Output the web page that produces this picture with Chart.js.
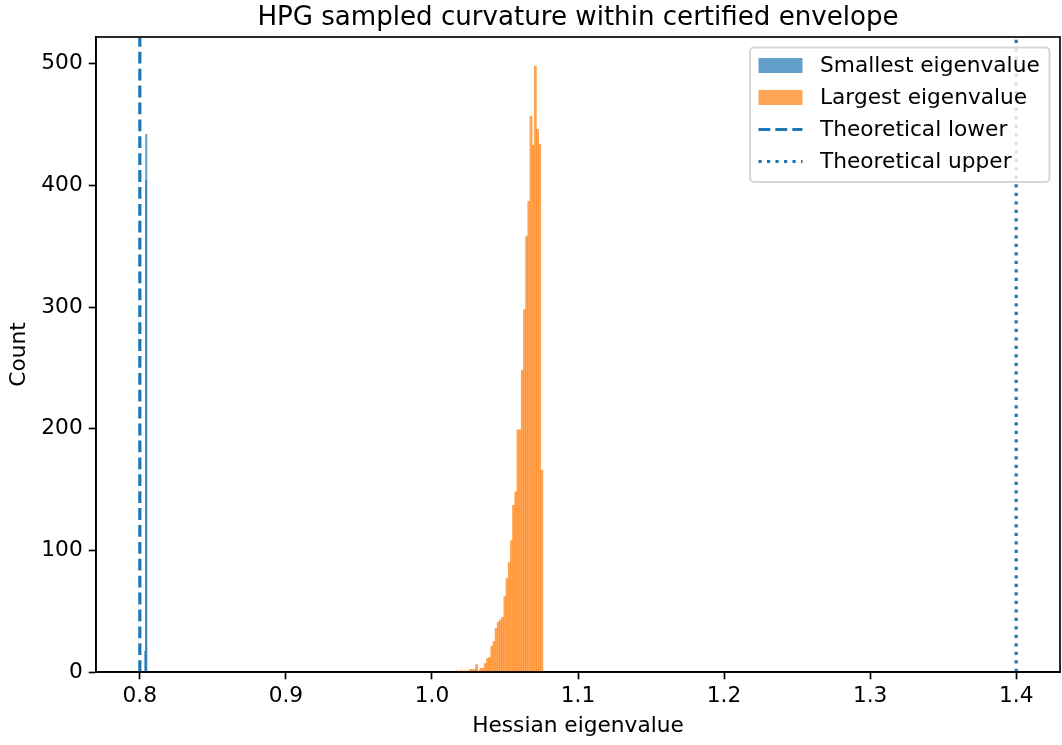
<!DOCTYPE html>
<html><head><meta charset="utf-8">
<script src="https://cdn.jsdelivr.net/npm/chart.js@4.4.1/dist/chart.umd.min.js"></script>
<style>html,body{margin:0;padding:0;background:#fff;} canvas{display:block;}</style>
</head><body>
<canvas id="c" width="1062" height="745"></canvas>
<script>
// ---- data ----
const titleText = 'HPG sampled curvature within certified envelope';
const xAxisLabel = 'Hessian eigenvalue';
const yAxisLabel = 'Count';
const seriesLabels = ['Smallest eigenvalue', 'Largest eigenvalue', 'Theoretical lower', 'Theoretical upper'];
const xTickValues = [0.8, 0.9, 1.0, 1.1, 1.2, 1.3, 1.4];
const yTickValues = [0, 100, 200, 300, 400, 500];
const xRange = [0.77, 1.43];
const yRange = [0, 522];

// histogram of the largest eigenvalue (bin centres and counts)
const largestBinCenters = [
  1.01715, 1.01864, 1.02013, 1.02162, 1.02311, 1.02460, 1.02609, 1.02758, 1.02907, 1.03056,
  1.03205, 1.03354, 1.03503, 1.03652, 1.03801, 1.03950, 1.04099, 1.04248, 1.04397, 1.04546,
  1.04695, 1.04844, 1.04993, 1.05142, 1.05291, 1.05440, 1.05589, 1.05738, 1.05887, 1.06036,
  1.06185, 1.06334, 1.06483, 1.06632, 1.06781, 1.06930, 1.07079, 1.07228, 1.07377, 1.07526
];
const largestCounts = [
  1, 0, 1, 0, 1, 0, 2, 2, 2, 6,
  1, 3, 3, 7, 11, 12, 21, 25, 36, 41,
  43, 45, 62, 77, 90, 108, 137, 148, 199, 199,
  248, 298, 358, 387, 457, 433, 498, 446, 434, 166
];
// histogram of the smallest eigenvalue (very narrow bins)
const smallestBinCenters = [0.80368, 0.80432, 0.80440];
const smallestCounts = [17, 404, 442];

const theoreticalLower = 0.8;
const theoreticalUpper = 1.4;

// ---- styles ----
const BLUE = 'rgba(31,119,180,0.7)';
const ORANGE = 'rgba(255,127,14,0.7)';
const LINE_BLUE = '#1f77b4';
const FONT = "'DejaVu Sans', 'Liberation Sans', sans-serif";
const FS = 21.7;

const toXY = (xs, ys) => xs.map((x, i) => ({ x: x, y: ys[i] }));

const framePlugin = {
  id: 'frame',
  afterDatasetsDraw(chart) {
    const { ctx, chartArea: a } = chart;
    ctx.save();
    ctx.strokeStyle = '#000';
    ctx.lineWidth = 1.67;
    ctx.strokeRect(a.left, a.top, a.right - a.left, a.bottom - a.top);
    ctx.restore();
  }
};

const titlePlugin = {
  id: 'mplTitle',
  afterDraw(chart) {
    const { ctx, chartArea: a } = chart;
    ctx.save();
    ctx.fillStyle = '#000';
    ctx.font = '26.1px ' + FONT;
    ctx.textAlign = 'center';
    ctx.textBaseline = 'alphabetic';
    ctx.fillText(titleText, (a.left + a.right) / 2, a.top - 12.5);
    ctx.restore();
  }
};

const legendPlugin = {
  id: 'mplLegend',
  afterDraw(chart) {
    const { ctx } = chart;
    const x0 = 750, y0 = 47.5, w = 299.5, h = 134.5, r = 4;
    ctx.save();
    ctx.beginPath();
    ctx.moveTo(x0 + r, y0);
    ctx.arcTo(x0 + w, y0, x0 + w, y0 + h, r);
    ctx.arcTo(x0 + w, y0 + h, x0, y0 + h, r);
    ctx.arcTo(x0, y0 + h, x0, y0, r);
    ctx.arcTo(x0, y0, x0 + w, y0, r);
    ctx.closePath();
    ctx.fillStyle = 'rgba(255,255,255,0.8)';
    ctx.fill();
    ctx.strokeStyle = 'rgba(204,204,204,0.8)';
    ctx.lineWidth = 2;
    ctx.stroke();

    const ds = chart.data.datasets;
    ctx.font = FS + 'px ' + FONT;
    ctx.textBaseline = 'middle';
    ctx.textAlign = 'left';
    ds.forEach((d, i) => {
      const cy = 65.5 + i * 32;
      const hx = 758.5, hw = 44;
      if (d.type === 'line') {
        ctx.beginPath();
        ctx.strokeStyle = d.borderColor;
        ctx.lineWidth = d.borderWidth;
        ctx.lineCap = 'butt';
        ctx.setLineDash(d.borderDash || []);
        ctx.moveTo(hx, cy);
        ctx.lineTo(hx + hw, cy);
        ctx.stroke();
        ctx.setLineDash([]);
      } else {
        ctx.fillStyle = d.backgroundColor;
        ctx.fillRect(hx, cy - 7.5, hw, 15);
      }
      ctx.fillStyle = '#000';
      ctx.fillText(d.label, 820, cy + 1);
    });
    ctx.restore();
  }
};

const chart = new Chart(document.getElementById('c'), {
  type: 'bar',
  data: {
    datasets: [
      {
        type: 'bar',
        label: seriesLabels[0],
        data: toXY(smallestBinCenters, smallestCounts),
        backgroundColor: BLUE,
        borderWidth: 0,
        xAxisID: 'x2',
        barThickness: 1.3,
        grouped: false,
        order: 3
      },
      {
        type: 'bar',
        label: seriesLabels[1],
        data: toXY(largestBinCenters, largestCounts),
        backgroundColor: ORANGE,
        borderWidth: 0,
        xAxisID: 'x',
        barPercentage: 1,
        categoryPercentage: 1,
        grouped: false,
        order: 2
      },
      {
        type: 'line',
        label: seriesLabels[2],
        data: [{ x: theoreticalLower, y: yRange[0] }, { x: theoreticalLower, y: yRange[1] }],
        borderColor: LINE_BLUE,
        borderWidth: 3.2,
        borderDash: [11.8, 5.1],
        borderCapStyle: 'butt',
        pointRadius: 0,
        xAxisID: 'x',
        order: 1
      },
      {
        type: 'line',
        label: seriesLabels[3],
        data: [{ x: theoreticalUpper, y: yRange[0] }, { x: theoreticalUpper, y: yRange[1] }],
        borderColor: LINE_BLUE,
        borderWidth: 3.2,
        borderDash: [3.2, 5.3],
        borderCapStyle: 'butt',
        pointRadius: 0,
        xAxisID: 'x',
        order: 0
      }
    ]
  },
  options: {
    responsive: false,
    animation: false,
    events: [],
    layout: { padding: { top: 37, right: 2, left: 0, bottom: 0 } },
    plugins: { legend: { display: false }, title: { display: false }, tooltip: { enabled: false } },
    scales: {
      x: {
        type: 'linear',
        position: 'bottom',
        offset: false,
        min: xRange[0],
        max: xRange[1],
        afterBuildTicks: (s) => { s.ticks = xTickValues.map(v => ({ value: v })); },
        afterFit: (s) => { s.height = 73; },
        ticks: {
          color: '#000',
          font: { family: FONT, size: FS },
          padding: 4,
          maxRotation: 0,
          autoSkip: false,
          callback: (v) => Number(v).toFixed(1)
        },
        grid: { display: true, offset: false, drawOnChartArea: false, drawTicks: true, tickLength: 7.3, tickWidth: 1.67, tickColor: '#000' },
        border: { display: true, color: '#000', width: 1.67 },
        title: { display: true, text: xAxisLabel, color: '#000', font: { family: FONT, size: FS }, padding: { top: 0, bottom: 6 } }
      },
      x2: {
        type: 'linear',
        display: false,
        offset: false,
        grid: { offset: false },
        min: xRange[0],
        max: xRange[1]
      },
      y: {
        type: 'linear',
        min: yRange[0],
        max: yRange[1],
        afterBuildTicks: (s) => { s.ticks = yTickValues.map(v => ({ value: v })); },
        afterFit: (s) => { s.width = 96; },
        ticks: {
          color: '#000',
          font: { family: FONT, size: FS },
          padding: 6,
          autoSkip: false,
          callback: (v) => String(v)
        },
        grid: { display: true, drawOnChartArea: false, drawTicks: true, tickLength: 7.3, tickWidth: 1.67, tickColor: '#000' },
        border: { display: true, color: '#000', width: 1.67 },
        title: { display: true, text: yAxisLabel, color: '#000', font: { family: FONT, size: FS }, padding: { top: 6, bottom: 0 } }
      }
    }
  },
  plugins: [framePlugin, titlePlugin, legendPlugin]
});
</script>
</body></html>
